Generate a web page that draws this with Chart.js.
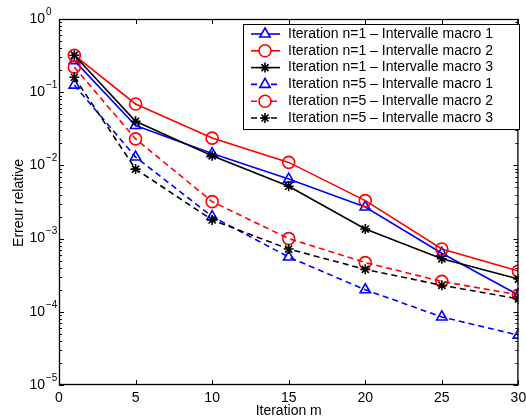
<!DOCTYPE html>
<html>
<head>
<meta charset="utf-8">
<script src="https://cdn.jsdelivr.net/npm/chart.js@4"></script>
<style>
  html, body { margin: 0; padding: 0; background: #fff; }
  #wrap { width: 526px; height: 419px; }
</style>
</head>
<body>
<div id="wrap"><canvas id="errChart" width="526" height="419"></canvas></div>
<script>
const iterations = [1, 5, 10, 15, 20, 25, 30];
const n1Macro1 = [0.27, 0.035, 0.0145, 0.0065, 0.0027, 0.00063, 0.00017];
const n1Macro2 = [0.32, 0.069, 0.0236, 0.011, 0.0033, 0.00072, 0.00036];
const n1Macro3 = [0.32, 0.040, 0.0135, 0.0052, 0.00135, 0.00053, 0.00028];
const n5Macro1 = [0.125, 0.013, 0.002, 0.00056, 0.0002, 0.000085, 0.000048];
const n5Macro2 = [0.22, 0.023, 0.0032, 0.001, 0.00047, 0.00026, 0.00017];
const n5Macro3 = [0.16, 0.0089, 0.0018, 0.00072, 0.00038, 0.00023, 0.00015];

const xTicks = [0, 5, 10, 15, 20, 25, 30];
const yExponents = [0, -1, -2, -3, -4, -5];
const seriesLabels = [
    'Iteration n=1 \u2013 Intervalle macro 1',
    'Iteration n=1 \u2013 Intervalle macro 2',
    'Iteration n=1 \u2013 Intervalle macro 3',
    'Iteration n=5 \u2013 Intervalle macro 1',
    'Iteration n=5 \u2013 Intervalle macro 2',
    'Iteration n=5 \u2013 Intervalle macro 3'
];

const FONT = '"Liberation Sans", Arial, Helvetica, sans-serif';
const DASH = [6, 4];

function makeSet(i, values, color, style, dashed) {
    return {
        label: seriesLabels[i],
        data: values.map((v, k) => ({ x: iterations[k], y: v })),
        borderColor: color,
        backgroundColor: 'rgba(0,0,0,0)',
        borderWidth: 1.6,
        borderDash: dashed ? DASH : [],
        pointStyle: style,
        pointRadius: style === 'star' ? 5 : 6,
        pointBorderWidth: 1.6,
        pointBorderColor: color,
        pointBackgroundColor: 'rgba(0,0,0,0)',
        tension: 0,
        order: 6 - i
    };
}

const datasets = [
    makeSet(0, n1Macro1, '#0000ff', 'triangle', false),
    makeSet(1, n1Macro2, '#ff0000', 'circle', false),
    makeSet(2, n1Macro3, '#000000', 'star', false),
    makeSet(3, n5Macro1, '#0000ff', 'triangle', true),
    makeSet(4, n5Macro2, '#ff0000', 'circle', true),
    makeSet(5, n5Macro3, '#000000', 'star', true)
];

const matlabAxes = {
    id: 'matlabAxes',
    afterDatasetsDraw(chart) {
        const ctx = chart.ctx;
        const a = chart.chartArea;
        const xs = chart.scales.x;
        const ys = chart.scales.y;
        ctx.save();
        ctx.strokeStyle = '#000';
        ctx.lineWidth = 1;

        // x ticks top and bottom
        xTicks.forEach(t => {
            const px = Math.round(xs.getPixelForValue(t)) + 0.5;
            ctx.beginPath();
            ctx.moveTo(px, a.bottom); ctx.lineTo(px, a.bottom - 5);
            ctx.moveTo(px, a.top); ctx.lineTo(px, a.top + 5);
            ctx.stroke();
        });

        // y ticks, major + minor, left and right
        for (let e = -5; e <= 0; e++) {
            for (let m = 1; m <= 9; m++) {
                const v = m * Math.pow(10, e);
                if (v > 1) break;
                const py = Math.round(ys.getPixelForValue(v)) + 0.5;
                const len = m === 1 ? 5 : 3;
                ctx.beginPath();
                ctx.moveTo(a.left, py); ctx.lineTo(a.left + len, py);
                ctx.moveTo(a.right, py); ctx.lineTo(a.right - len, py);
                ctx.stroke();
            }
        }

        // box
        ctx.lineWidth = 1.3;
        ctx.strokeRect(a.left + 0.5, a.top + 0.5, a.right - a.left - 1, a.bottom - a.top - 1);

        // tick labels
        ctx.fillStyle = '#000';
        ctx.font = '14px ' + FONT;
        ctx.textAlign = 'center';
        ctx.textBaseline = 'middle';
        xTicks.forEach(t => {
            ctx.fillText(String(t), xs.getPixelForValue(t), a.bottom + 13);
        });
        yExponents.forEach(e => {
            const py = ys.getPixelForValue(Math.pow(10, e));
            ctx.font = '14px ' + FONT;
            ctx.textAlign = 'right';
            ctx.textBaseline = 'middle';
            ctx.fillText('10', 45, py);
            ctx.font = '10px ' + FONT;
            ctx.textAlign = 'left';
            ctx.fillText(String(e).replace('-', '\u2212'), 46, py - 7);
        });

        // axis titles
        ctx.font = '14px ' + FONT;
        ctx.textAlign = 'center';
        ctx.textBaseline = 'middle';
        ctx.fillText('Iteration m', (a.left + a.right) / 2, 411);
        ctx.save();
        ctx.translate(19, (a.top + a.bottom) / 2 + 1);
        ctx.rotate(-Math.PI / 2);
        ctx.fillText('Erreur relative', 0, 0);
        ctx.restore();

        // legend
        const lx = 243, ly = 24, lw = 276, lh = 105;
        ctx.fillStyle = '#fff';
        ctx.fillRect(lx, ly, lw, lh);
        ctx.lineWidth = 1;
        ctx.strokeStyle = '#000';
        ctx.strokeRect(lx + 0.5, ly + 0.5, lw, lh);
        chart.data.datasets.forEach((ds, i) => {
            const cy = ly + 10 + i * 16.8;
            ctx.strokeStyle = ds.borderColor;
            ctx.lineWidth = ds.borderWidth;
            ctx.setLineDash(ds.borderDash);
            ctx.beginPath();
            ctx.moveTo(251, cy); ctx.lineTo(280, cy);
            ctx.stroke();
            ctx.setLineDash([]);
            ctx.fillStyle = '#fff';
            Chart.helpers.drawPoint(ctx, {
                pointStyle: ds.pointStyle,
                radius: ds.pointRadius,
                borderWidth: ds.pointBorderWidth,
                rotation: 0
            }, 265, cy);
            ctx.fillStyle = '#000';
            ctx.font = '14px ' + FONT;
            ctx.textAlign = 'left';
            ctx.textBaseline = 'middle';
            ctx.fillText(ds.label, 288, cy);
        });
        ctx.restore();
    }
};

new Chart(document.getElementById('errChart'), {
    type: 'line',
    data: { datasets: datasets },
    options: {
        responsive: false,
        animation: false,
        layout: { padding: { left: 59, right: 2, top: 19, bottom: 34 } },
        scales: {
            x: { type: 'linear', min: 0, max: 30, display: false },
            y: { type: 'logarithmic', min: 1e-5, max: 1, display: false }
        },
        plugins: {
            legend: { display: false },
            tooltip: { enabled: false }
        }
    },
    plugins: [matlabAxes]
});
</script>
</body>
</html>
